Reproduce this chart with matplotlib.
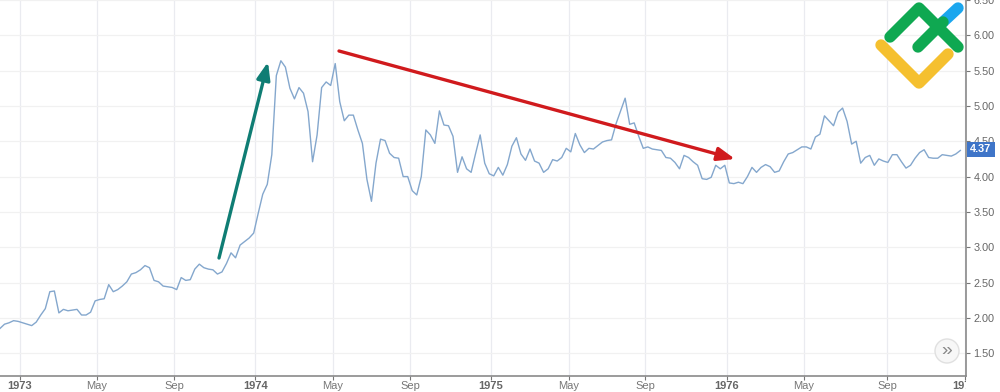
import matplotlib
matplotlib.use("Agg")
import matplotlib.pyplot as plt
from matplotlib.lines import Line2D
from matplotlib.patches import Circle, Rectangle
from matplotlib.transforms import Bbox

plt.rcParams['font.family'] = ['Liberation Sans', 'DejaVu Sans']

# weekly prices
prices = [1.85,1.91,1.93,1.96,1.95,1.93,1.91,1.89,1.94,2.04,2.13,2.37,2.38,2.07,2.12,2.10,2.11,2.12,2.04,2.04,
 2.08,2.24,2.26,2.27,2.47,2.37,2.40,2.45,2.51,2.62,2.64,2.68,2.74,2.71,2.53,2.51,2.45,2.44,2.43,2.40,
 2.57,2.53,2.54,2.69,2.76,2.71,2.69,2.68,2.62,2.65,2.77,2.92,2.85,3.03,3.08,3.13,3.20,3.48,3.75,3.89,
 4.31,5.43,5.64,5.55,5.25,5.10,5.26,5.18,4.92,4.21,4.59,5.26,5.34,5.29,5.60,5.06,4.79,4.87,4.87,4.66,
 4.47,3.96,3.65,4.19,4.53,4.51,4.33,4.27,4.26,4.00,4.00,3.80,3.74,4.00,4.66,4.59,4.47,4.93,4.73,4.72,
 4.57,4.06,4.28,4.11,4.06,4.33,4.59,4.19,4.04,4.01,4.13,4.02,4.17,4.43,4.55,4.32,4.23,4.39,4.22,4.19,
 4.06,4.11,4.24,4.22,4.27,4.40,4.35,4.61,4.45,4.34,4.40,4.39,4.44,4.49,4.51,4.52,4.75,4.93,5.11,4.74,
 4.76,4.57,4.40,4.42,4.39,4.38,4.37,4.27,4.26,4.20,4.11,4.30,4.27,4.21,4.16,3.97,3.96,3.99,4.16,4.11,
 4.16,3.91,3.90,3.92,3.90,4.00,4.13,4.06,4.13,4.17,4.14,4.06,4.08,4.21,4.32,4.34,4.38,4.42,4.42,4.39,
 4.56,4.60,4.86,4.79,4.72,4.91,4.97,4.78,4.46,4.50,4.19,4.27,4.30,4.16,4.25,4.22,4.20,4.31,4.31,4.21,
 4.12,4.16,4.26,4.34,4.38,4.27,4.26,4.26,4.31,4.30,4.29,4.32,4.37]
weeks = list(range(len(prices)))
x_tick_weeks = [4.4,21.4,38.4,56.4,73.4,90.5,108.4,125.5,142.4,160.4,177.5,195.8,213.0]
x_tick_labels = ['1973','May','Sep','1974','May','Sep','1975','May','Sep','1976','May','Sep','1977']
y_ticks = [1.5,2.0,2.5,3.0,3.5,4.0,4.5,5.0,5.5,6.0,6.5]
last_price = 4.37

W, H = 1000, 392
fig = plt.figure(figsize=(W/100, H/100), dpi=100, facecolor='white')
ax = fig.add_axes([0, (H-376)/H, 966/W, 376/H])
ax.set_xlim(0, 966/4.53)
ax.set_ylim(1.5-23/71.1, 1.5+353/71.1)
ax.plot(weeks, prices, color='#84a7cd', lw=1.0, solid_joinstyle='round', zorder=3)

ax.set_xticks(x_tick_weeks)
ax.set_xticklabels(x_tick_labels)
ax.set_yticks(y_ticks)
ax.set_yticklabels([f'{v:.2f}' for v in y_ticks])
ax.yaxis.tick_right()
ax.grid(True, axis='y', color='#f1f1f1', lw=0.9)
ax.grid(True, axis='x', color='#eaebf0', lw=0.9)
ax.set_axisbelow(True)
for s in ('top', 'left'):
    ax.spines[s].set_visible(False)
for s in ('right', 'bottom'):
    ax.spines[s].set_color('#8a8a8a')
    ax.spines[s].set_linewidth(1.2)
ax.tick_params(axis='x', length=3, width=0.8, color='#777777', pad=0.6, labelsize=8, labelcolor='#777777')
ax.tick_params(axis='y', length=3, width=0.8, color='#777777', pad=2.5, labelsize=7.8, labelcolor='#666666')
clip = Bbox([[0, 0], [966, H]])
for lab, txt in zip(ax.get_xticklabels(), x_tick_labels):
    if txt.startswith('19'):
        lab.set_fontweight('bold')
        lab.set_color('#666666')
    lab.set_clip_box(clip)
    lab.set_clip_on(True)

def fx(px):
    return px / W
def fy(py):
    return 1 - py / H

def arrow(start, end, color, lw):
    ax.annotate('', xy=(fx(end[0]), fy(end[1])), xytext=(fx(start[0]), fy(start[1])),
                xycoords='figure fraction', textcoords='figure fraction', zorder=5,
                arrowprops=dict(arrowstyle='-|>,head_length=0.7,head_width=0.27', color=color,
                                lw=lw, shrinkA=0, shrinkB=0, mutation_scale=15))
arrow((219, 258), (268, 62), '#0f7d74', 2.4)
arrow((339, 51), (735, 159), '#d01a1d', 2.4)

# price tag
fig.add_artist(Rectangle((fx(967), fy(157)), 28/W, 15/H, transform=fig.transFigure,
                         facecolor='#3f75c8', edgecolor='none', zorder=6))
yp = 353 - (last_price - 1.5) * 71.1
fig.text(fx(981), fy(yp+0.5), f'{last_price:.2f}', color='white', ha='center', va='center',
         fontsize=7.8, fontweight='bold', zorder=7)

# scroll button
fig.add_artist(Circle((947, H-351), 12, transform=None, facecolor='#f7f7f7', edgecolor='#e0e0e0',
                      lw=1, zorder=6))
fig.text(fx(947), fy(350.5), '»', color='#888888', fontsize=14, ha='center', va='center', zorder=7)

# logo
def stroke(pts, color, lw=8.2, z=8):
    fig.add_artist(Line2D([fx(p[0]) for p in pts], [fy(p[1]) for p in pts], transform=fig.transFigure,
                          color=color, lw=lw, solid_capstyle='round', solid_joinstyle='round', zorder=z))
stroke([(943, 22), (958, 8)], '#1aa6ee', z=8)
stroke([(881, 45), (919, 83), (948, 54)], '#f5c02f', z=8)
stroke([(890, 37), (919, 8), (958, 47)], '#0fa851', z=9)
stroke([(918, 47), (943, 22)], '#0fa851', z=9)

fig.savefig('out.png', dpi=100, facecolor='white')
